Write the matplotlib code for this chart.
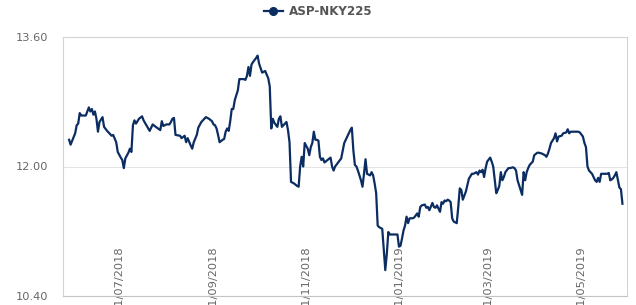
import pandas as pd
import matplotlib
matplotlib.use("Agg")
import matplotlib.pyplot as plt
import matplotlib.dates as mdates
from matplotlib.ticker import FormatStrFormatter

series_name = "ASP-NKY225"

dates = [
    "2018-05-29", "2018-05-30", "2018-06-02", "2018-06-03", "2018-06-04", "2018-06-05", "2018-06-06",
    "2018-06-09", "2018-06-10", "2018-06-11", "2018-06-12", "2018-06-13", "2018-06-14", "2018-06-15",
    "2018-06-16", "2018-06-17", "2018-06-18", "2018-06-20", "2018-06-21", "2018-06-23", "2018-06-25",
    "2018-06-26", "2018-06-27", "2018-06-29", "2018-06-30",
    "2018-07-02", "2018-07-03", "2018-07-04", "2018-07-05", "2018-07-07", "2018-07-08", "2018-07-09",
    "2018-07-10", "2018-07-11", "2018-07-12", "2018-07-14", "2018-07-16", "2018-07-17", "2018-07-21",
    "2018-07-23", "2018-07-25", "2018-07-28", "2018-07-29", "2018-07-30",
    "2018-08-01", "2018-08-03", "2018-08-04", "2018-08-05", "2018-08-06", "2018-08-07", "2018-08-10",
    "2018-08-11", "2018-08-13", "2018-08-14", "2018-08-15", "2018-08-17", "2018-08-18", "2018-08-19",
    "2018-08-21", "2018-08-22", "2018-08-24", "2018-08-26", "2018-08-27", "2018-08-29", "2018-08-31",
    "2018-09-01", "2018-09-02", "2018-09-03", "2018-09-04", "2018-09-05", "2018-09-07", "2018-09-08",
    "2018-09-09", "2018-09-10", "2018-09-11", "2018-09-12", "2018-09-13", "2018-09-14", "2018-09-15",
    "2018-09-17", "2018-09-18", "2018-09-21", "2018-09-22", "2018-09-23", "2018-09-24", "2018-09-25",
    "2018-09-26", "2018-09-27", "2018-09-29", "2018-09-30",
    "2018-10-01", "2018-10-03", "2018-10-04", "2018-10-05", "2018-10-07", "2018-10-08", "2018-10-09",
    "2018-10-10", "2018-10-11", "2018-10-13", "2018-10-14", "2018-10-15", "2018-10-16", "2018-10-17",
    "2018-10-19", "2018-10-20", "2018-10-21", "2018-10-22", "2018-10-24", "2018-10-26", "2018-10-27",
    "2018-10-28", "2018-10-29", "2018-10-30", "2018-10-31",
    "2018-11-02", "2018-11-03", "2018-11-04", "2018-11-05", "2018-11-06", "2018-11-07", "2018-11-08",
    "2018-11-09", "2018-11-10", "2018-11-11", "2018-11-12", "2018-11-13", "2018-11-15", "2018-11-17",
    "2018-11-18", "2018-11-19", "2018-11-20", "2018-11-22", "2018-11-24", "2018-11-26", "2018-11-28",
    "2018-11-30",
    "2018-12-01", "2018-12-02", "2018-12-03", "2018-12-04", "2018-12-05", "2018-12-06", "2018-12-07",
    "2018-12-08", "2018-12-09", "2018-12-10", "2018-12-11", "2018-12-13", "2018-12-14", "2018-12-15",
    "2018-12-16", "2018-12-17", "2018-12-18", "2018-12-19", "2018-12-21", "2018-12-23", "2018-12-24",
    "2018-12-25", "2018-12-26", "2018-12-28", "2018-12-31",
    "2019-01-01", "2019-01-02", "2019-01-03", "2019-01-04", "2019-01-05", "2019-01-06", "2019-01-07",
    "2019-01-08", "2019-01-10", "2019-01-11", "2019-01-13", "2019-01-14", "2019-01-15", "2019-01-16",
    "2019-01-18", "2019-01-19", "2019-01-20", "2019-01-21", "2019-01-23", "2019-01-24", "2019-01-25",
    "2019-01-26", "2019-01-28", "2019-01-29", "2019-01-30", "2019-01-31",
    "2019-02-01", "2019-02-02", "2019-02-03", "2019-02-04", "2019-02-05", "2019-02-06", "2019-02-08",
    "2019-02-09", "2019-02-10", "2019-02-11", "2019-02-12", "2019-02-14", "2019-02-15", "2019-02-16",
    "2019-02-18", "2019-02-19", "2019-02-21", "2019-02-22", "2019-02-23", "2019-02-24", "2019-02-25",
    "2019-02-26", "2019-02-27", "2019-02-28",
    "2019-03-02", "2019-03-03", "2019-03-04", "2019-03-06", "2019-03-07", "2019-03-08", "2019-03-09",
    "2019-03-10", "2019-03-11", "2019-03-12", "2019-03-14", "2019-03-15", "2019-03-17", "2019-03-18",
    "2019-03-19", "2019-03-20", "2019-03-22", "2019-03-23", "2019-03-24", "2019-03-25", "2019-03-26",
    "2019-03-27", "2019-03-28", "2019-03-30", "2019-03-31",
    "2019-04-02", "2019-04-03", "2019-04-05", "2019-04-07", "2019-04-08", "2019-04-09", "2019-04-10",
    "2019-04-11", "2019-04-13", "2019-04-14", "2019-04-15", "2019-04-16", "2019-04-18", "2019-04-19",
    "2019-04-21", "2019-04-22", "2019-04-23", "2019-04-24", "2019-04-27", "2019-04-29", "2019-04-30",
    "2019-05-02", "2019-05-03", "2019-05-04", "2019-05-05", "2019-05-06", "2019-05-08", "2019-05-09",
    "2019-05-10", "2019-05-11", "2019-05-12", "2019-05-13", "2019-05-14", "2019-05-16", "2019-05-18",
    "2019-05-19", "2019-05-20", "2019-05-21", "2019-05-22", "2019-05-23", "2019-05-24", "2019-05-26",
    "2019-05-27", "2019-05-28",
]

values = [
    12.33, 12.27, 12.41, 12.51, 12.53, 12.66, 12.63,
    12.63, 12.68, 12.73, 12.68, 12.71, 12.64, 12.68,
    12.59, 12.43, 12.55, 12.61, 12.49, 12.44, 12.40,
    12.38, 12.39, 12.30, 12.18,
    12.11, 12.08, 11.98, 12.10, 12.17, 12.22, 12.18,
    12.51, 12.57, 12.53, 12.59, 12.62, 12.57, 12.44,
    12.52, 12.49, 12.45, 12.56, 12.50,
    12.52, 12.52, 12.55, 12.59, 12.60, 12.39, 12.38,
    12.35, 12.38, 12.30, 12.35, 12.26, 12.22, 12.30,
    12.39, 12.48, 12.55, 12.59, 12.61, 12.59, 12.56,
    12.52, 12.51, 12.47, 12.39, 12.30, 12.33, 12.34,
    12.43, 12.47, 12.44, 12.56, 12.71, 12.71, 12.82,
    12.94, 13.08, 13.08, 13.07, 13.12, 13.23, 13.12,
    13.26, 13.29, 13.34, 13.37,
    13.27, 13.16, 13.17, 13.18, 13.09, 12.99, 12.47,
    12.59, 12.54, 12.49, 12.59, 12.62, 12.49, 12.51,
    12.55, 12.45, 12.30, 11.81, 11.79, 11.76, 11.75,
    12.00, 12.12, 12.00, 12.29,
    12.22, 12.14, 12.24, 12.29, 12.43, 12.33, 12.33,
    12.32, 12.12, 12.08, 12.10, 12.05, 12.08, 12.11,
    12.00, 11.95, 12.00, 12.05, 12.10, 12.29, 12.37,
    12.45,
    12.48, 12.20, 12.02, 12.00, 11.95, 11.89, 11.83,
    11.75, 11.91, 12.09, 11.91, 11.89, 11.93, 11.89,
    11.79, 11.67, 11.27, 11.25, 11.23, 10.72, 10.92,
    11.19, 11.16, 11.16, 11.16,
    11.01, 11.02, 11.11, 11.21, 11.27, 11.38, 11.30,
    11.36, 11.36, 11.37, 11.42, 11.38, 11.50, 11.52,
    11.53, 11.49, 11.50, 11.46, 11.55, 11.50, 11.49,
    11.52, 11.44, 11.56, 11.54, 11.58,
    11.57, 11.59, 11.58, 11.56, 11.36, 11.32, 11.30,
    11.50, 11.73, 11.71, 11.59, 11.69, 11.77, 11.85,
    11.91, 11.91, 11.93, 11.90, 11.95, 11.93, 11.96,
    11.87, 11.98, 12.06,
    12.11, 12.06, 12.00, 11.67, 11.71, 11.76, 11.93,
    11.83, 11.87, 11.93, 11.98, 11.98, 11.99, 11.98,
    11.95, 11.83, 11.71, 11.65, 11.93, 11.83, 11.93,
    11.98, 12.02, 12.06, 12.14,
    12.17, 12.17, 12.16, 12.14, 12.12, 12.16, 12.22,
    12.29, 12.35, 12.41, 12.31, 12.37, 12.38, 12.41,
    12.42, 12.46, 12.41, 12.43, 12.43, 12.43, 12.42,
    12.37, 12.29, 12.24, 12.00, 11.95, 11.91, 11.87,
    11.83, 11.81, 11.86, 11.81, 11.91, 11.91, 11.91,
    11.92, 11.83, 11.84, 11.86, 11.89, 11.93, 11.74,
    11.72, 11.54,
]

tick_dates = ["2018-07-01", "2018-09-01", "2018-11-01", "2019-01-01", "2019-03-01", "2019-05-01"]
y_ticks = [10.40, 12.00, 13.60]

line_color = "#0b2d62"
text_color = "#666666"
frame_color = "#d4d4d4"

x = pd.to_datetime(dates)

fig = plt.figure(figsize=(6.36, 3.05), dpi=100)
ax = fig.add_axes([63 / 636, 1 - 296 / 305, 564 / 636, 259 / 305])

ax.plot(x, values, color=line_color, linewidth=1.6, marker="o", markersize=0,
        label=series_name, solid_joinstyle="round")

ax.set_xlim(pd.Timestamp("2018-05-25"), pd.Timestamp("2019-05-31"))
ax.set_ylim(10.40, 13.60)
ax.set_yticks(y_ticks)
ax.yaxis.set_major_formatter(FormatStrFormatter("%.2f"))
ax.set_xticks(pd.to_datetime(tick_dates))
ax.xaxis.set_major_formatter(mdates.DateFormatter("%d/%m/%Y"))

ax.tick_params(axis="y", length=0, pad=10.5, labelsize=8.2, labelcolor=text_color)
ax.tick_params(axis="x", length=0, pad=-35.5, labelsize=8.2, labelcolor=text_color,
               labelrotation=90)

ax.yaxis.grid(True, color="#e4e4e4", linewidth=0.8)
ax.set_axisbelow(True)
for side in ["top", "right", "left"]:
    ax.spines[side].set_color(frame_color)
    ax.spines[side].set_linewidth(0.8)
ax.spines["bottom"].set_color("#c4c4c4")
ax.spines["bottom"].set_linewidth(0.8)

handle = plt.Line2D([], [], color=line_color, linewidth=1.6, marker="o", markersize=5.5)
leg = fig.legend([handle], [series_name], loc="center", bbox_to_anchor=(0.5, 0.961),
                 frameon=False, handlelength=1.6, handletextpad=0.5,
                 prop={"size": 8.6, "weight": "bold"})
for t in leg.get_texts():
    t.set_color("#555555")

fig.savefig("out.png", dpi=100)
plt.close(fig)
